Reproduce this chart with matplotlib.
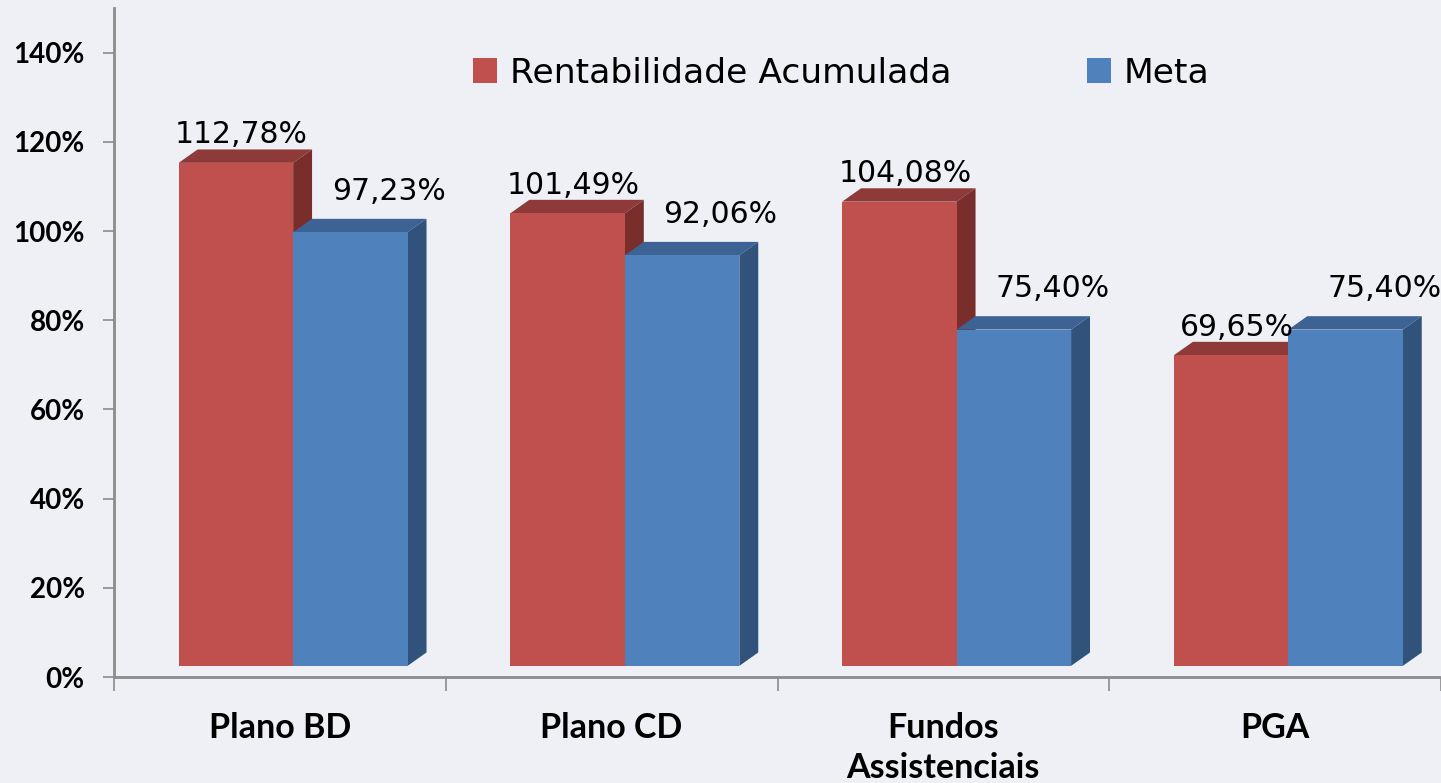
import matplotlib
matplotlib.use('Agg')
import matplotlib.pyplot as plt
from matplotlib.patches import Polygon, Rectangle

categories = ['Plano BD', 'Plano CD', 'Fundos\nAssistenciais', 'PGA']
rentabilidade = [112.78, 101.49, 104.08, 69.65]
meta = [97.23, 92.06, 75.40, 75.40]
series_names = ['Rentabilidade Acumulada', 'Meta']
yticks = [0, 20, 40, 60, 80, 100, 120, 140]

bg = '#EFF0F6'
# front, top, side
red = ('#C0504D', '#8E3A38', '#7A2E2C')
blue = ('#4F81BD', '#3D6394', '#30527B')

fig = plt.figure(figsize=(14.41, 7.83), dpi=100, facecolor=bg)
ax = fig.add_axes([114 / 1441, 106 / 783, 1327 / 1441, 669 / 783])
ax.set_facecolor(bg)
ax.set_xlim(0, 3.97)
ax.set_ylim(0, 150)

w = 0.345        # bar width (category units)
start = 0.195    # left edge of first bar inside category
base = 2.5       # front face lifted above the floor
dx, dy = 0.057, 3.0   # depth offset


def bar3d(x0, v, cols):
    front, top, side = cols
    y0, y1 = base, base + v
    ax.add_patch(Polygon([(x0, y1), (x0 + dx, y1 + dy), (x0 + w + dx, y1 + dy), (x0 + w, y1)],
                         closed=True, facecolor=top, edgecolor='none'))
    ax.add_patch(Polygon([(x0 + w, y0), (x0 + w + dx, y0 + dy), (x0 + w + dx, y1 + dy), (x0 + w, y1)],
                         closed=True, facecolor=side, edgecolor='none'))
    ax.add_patch(Rectangle((x0, y0), w, v, facecolor=front, edgecolor='none'))


def fmt(v):
    return ('%.2f%%' % v).replace('.', ',')


for i in range(len(categories)):
    xr = i + start
    xb = xr + w
    bar3d(xr, rentabilidade[i], red)
    bar3d(xb, meta[i], blue)
    ax.annotate(fmt(rentabilidade[i]), (xr + w / 2 + dx / 2, base + rentabilidade[i] + dy),
                xytext=(-4, 6), textcoords='offset pixels', ha='center', va='baseline',
                fontsize=21.5, family='DejaVu Sans')
    ax.annotate(fmt(meta[i]), (xb + w / 2 + dx / 2, base + meta[i] + dy),
                xytext=(29, 19), textcoords='offset pixels', ha='center', va='baseline',
                fontsize=21.5, family='DejaVu Sans')

# axes styling
for s in ['top', 'right']:
    ax.spines[s].set_visible(False)
for s in ['left', 'bottom']:
    ax.spines[s].set_color('#8C8C8C')
    ax.spines[s].set_linewidth(2)

ax.set_yticks(yticks)
ax.set_yticklabels(['%d%%' % t for t in yticks], fontsize=20, fontweight='bold',
                   family=['Lato', 'DejaVu Sans'])
ax.tick_params(axis='y', length=8, width=1.2, color='#8C8C8C', pad=13)

ax.set_xticks(range(len(categories) + 1))
ax.set_xticklabels([])
ax.tick_params(axis='x', which='major', length=10, width=1.2, color='#8C8C8C')
ax.set_xticks([i + 0.5 for i in range(len(categories))], minor=True)
ax.set_xticklabels(categories, minor=True, fontsize=24.5, fontweight='bold',
                   family=['Lato', 'DejaVu Sans'], linespacing=1.32, va='top')
ax.tick_params(axis='x', which='minor', length=0, pad=25)

# legend
lx = [473, 1087]
for k, (name, col) in enumerate(zip(series_names, [red[0], blue[0]])):
    fig.patches.append(Rectangle((lx[k] / 1441, 1 - 83 / 783), 24 / 1441, 25 / 783,
                                 transform=fig.transFigure, facecolor=col, edgecolor='none'))
    fig.text((lx[k] + 37) / 1441, 1 - 83 / 783, name, fontsize=24.8, va='baseline', ha='left',
             family='DejaVu Sans')

fig.savefig('out.png', dpi=100, facecolor=bg)
